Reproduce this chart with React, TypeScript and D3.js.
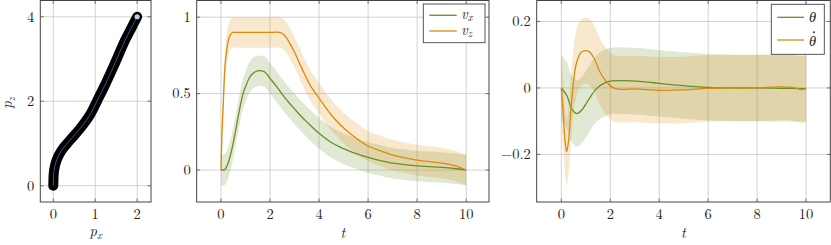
import React from 'react';
import * as d3 from 'd3';

// ---------- data ----------
const PX = [0, 0.02, 0.08, 0.2, 0.4, 0.64, 0.87, 1.05, 1.25, 1.43, 1.71, 1.86, 2.0];
const PZ = [0, 0.37, 0.61, 0.84, 1.08, 1.355, 1.67, 2.02, 2.42, 2.81, 3.44, 3.73, 4.0];

const T_VZ = [0, 0.04, 0.1, 0.16, 0.23, 0.34, 0.46, 0.6, 1.0, 1.5, 2.0, 2.4, 2.6, 2.8, 3.0, 3.2, 3.4, 3.6, 3.8, 4.0, 4.5, 5.0, 5.5, 6.0, 6.5, 7.0, 7.5, 8.0, 8.5, 9.0, 9.5, 10];
const VZ = [0, 0.24, 0.46, 0.67, 0.78, 0.87, 0.9, 0.9, 0.9, 0.9, 0.9, 0.9, 0.88, 0.83, 0.77, 0.7, 0.63, 0.565, 0.515, 0.47, 0.36, 0.275, 0.21, 0.157, 0.125, 0.098, 0.08, 0.065, 0.055, 0.045, 0.03, 0];

const T_VX = [0, 0.15, 0.3, 0.45, 0.6, 0.75, 0.9, 1.05, 1.2, 1.4, 1.6, 1.8, 2.0, 2.25, 2.5, 2.75, 3.0, 3.25, 3.5, 4.0, 4.5, 5.0, 5.5, 6.0, 6.5, 7.0, 7.5, 8.0, 8.5, 9.0, 9.5, 10];
const VX = [0, 0.003, 0.05, 0.14, 0.26, 0.39, 0.5, 0.565, 0.615, 0.643, 0.65, 0.64, 0.6, 0.55, 0.495, 0.445, 0.4, 0.355, 0.315, 0.24, 0.18, 0.14, 0.108, 0.083, 0.062, 0.045, 0.035, 0.027, 0.022, 0.017, 0.01, 0];

const T_TH = [0, 0.22, 0.42, 0.63, 0.83, 1.1, 1.44, 1.78, 2.06, 2.53, 3.2, 4.0, 4.85, 6.0, 7.0, 8.0, 9.0, 10];
const TH = [0, -0.022, -0.062, -0.077, -0.067, -0.037, -0.002, 0.015, 0.021, 0.022, 0.02, 0.014, 0.008, 0.002, 0, 0, -0.001, -0.002];

const T_THD = [0, 0.08, 0.15, 0.22, 0.3, 0.38, 0.49, 0.63, 0.83, 1.1, 1.31, 1.58, 1.85, 2.13, 2.4, 3.0, 3.5, 4.0, 5.0, 6.0, 7.0, 8.0, 8.9, 9.5, 9.8, 10];
const THD = [0, -0.077, -0.157, -0.192, -0.157, -0.077, 0.013, 0.078, 0.108, 0.111, 0.093, 0.048, 0.018, 0, -0.004, -0.003, -0.005, -0.007, -0.006, -0.001, 0, 0, 0.003, 0.001, -0.005, -0.002];

const BAND = 0.1;

const P1_XTICKS = [0, 1, 2];
const P1_YTICKS = [0, 2, 4];
const T_TICKS = [0, 2, 4, 6, 8, 10];
const V_YTICKS = [0, 0.5, 1];
const TH_YTICKS = [-0.2, 0, 0.2];

// ---------- style ----------
const FONT = '"Latin Modern Roman","CMU Serif","Liberation Serif","Times New Roman",serif';
const GREEN = '#6b8e23';
const ORANGE = '#da8c08';
const GRID = '#c8c8c8';
const AXIS = '#444';
const FS = 14.5;

type Sc = d3.ScaleLinear<number, number>;

function fmt(v: number) {
  const s = String(v);
  return v < 0 ? '\u2212' + s.slice(1) : s;
}

function Frame({ xs, ys, xTicks, yTicks }: { xs: Sc; ys: Sc; xTicks: number[]; yTicks: number[] }) {
  const [x0, x1] = xs.range();
  const [y1, y0] = ys.range();
  return (
    <g>
      {xTicks.map((t) => (
        <line key={'gx' + t} x1={xs(t)} x2={xs(t)} y1={y0} y2={y1} stroke={GRID} strokeWidth={0.8} />
      ))}
      {yTicks.map((t) => (
        <line key={'gy' + t} x1={x0} x2={x1} y1={ys(t)} y2={ys(t)} stroke={GRID} strokeWidth={0.8} />
      ))}
    </g>
  );
}

function Axes({ xs, ys, xTicks, yTicks }: { xs: Sc; ys: Sc; xTicks: number[]; yTicks: number[] }) {
  const [x0, x1] = xs.range();
  const [y1, y0] = ys.range();
  const tl = 3.5;
  return (
    <g>
      {xTicks.map((t) => (
        <g key={'tx' + t}>
          <line x1={xs(t)} x2={xs(t)} y1={y1} y2={y1 - tl} stroke={AXIS} strokeWidth={0.7} />
          <line x1={xs(t)} x2={xs(t)} y1={y0} y2={y0 + tl} stroke={AXIS} strokeWidth={0.7} />
          <text x={xs(t)} y={y1 + 16.5} textAnchor="middle" fontFamily={FONT} fontSize={FS} fill="#222">
            {fmt(t)}
          </text>
        </g>
      ))}
      {yTicks.map((t) => (
        <g key={'ty' + t}>
          <line x1={x0} x2={x0 + tl} y1={ys(t)} y2={ys(t)} stroke={AXIS} strokeWidth={0.7} />
          <line x1={x1} x2={x1 - tl} y1={ys(t)} y2={ys(t)} stroke={AXIS} strokeWidth={0.7} />
          <text x={x0 - 6} y={ys(t) + 4.8} textAnchor="end" fontFamily={FONT} fontSize={FS} fill="#222">
            {fmt(t)}
          </text>
        </g>
      ))}
      <rect x={x0} y={y0} width={x1 - x0} height={y1 - y0} fill="none" stroke={AXIS} strokeWidth={1} />
    </g>
  );
}

function series(ts: number[], vs: number[]) {
  return ts.map((t, i) => ({ t, v: vs[i] }));
}

function Band({ xs, ys, data, color }: { xs: Sc; ys: Sc; data: { t: number; v: number }[]; color: string }) {
  const area = d3
    .area<{ t: number; v: number }>()
    .x((d) => xs(d.t))
    .y0((d) => ys(d.v - BAND))
    .y1((d) => ys(d.v + BAND))
    .curve(d3.curveCatmullRom.alpha(0.5));
  return <path d={area(data) || ''} fill={color} fillOpacity={0.2} stroke="none" />;
}

function Line({ xs, ys, data, color }: { xs: Sc; ys: Sc; data: { t: number; v: number }[]; color: string }) {
  const line = d3
    .line<{ t: number; v: number }>()
    .x((d) => xs(d.t))
    .y((d) => ys(d.v))
    .curve(d3.curveCatmullRom.alpha(0.5));
  return <path d={line(data) || ''} fill="none" stroke={color} strokeWidth={1.3} />;
}

export default function App() {
  // Panel 1
  const x1s = d3.scaleLinear().domain([-0.31, 2.33]).range([40.3, 151]);
  const y1s = d3.scaleLinear().domain([-0.385, 4.385]).range([202, 0.5]);
  const pts = PX.map((x, i) => [x1s(x), y1s(PZ[i])] as [number, number]);
  const pLine = d3.line().curve(d3.curveCatmullRom.alpha(0.5))(pts) || '';
  const end = pts[pts.length - 1];

  // Panel 2
  const x2s = d3.scaleLinear().domain([-0.99, 10.93]).range([196.7, 489]);
  const y2s = d3.scaleLinear().domain([-0.209, 1.109]).range([202, 0.5]);
  const vx = series(T_VX, VX);
  const vz = series(T_VZ, VZ);

  // Panel 3
  const x3s = d3.scaleLinear().domain([-1.005, 10.99]).range([536.7, 830.3]);
  const y3s = d3.scaleLinear().domain([-0.343, 0.263]).range([202, 0.5]);
  const th = series(T_TH, TH);
  const thd = series(T_THD, THD);

  const it = { fontStyle: 'italic' as const };

  return (
    <svg width={831} height={245} style={{ position: 'absolute', left: 0, top: 0, background: '#fff' }}>
      {/* Panel 1 */}
      <Frame xs={x1s} ys={y1s} xTicks={P1_XTICKS} yTicks={P1_YTICKS} />
      <path d={pLine} fill="none" stroke="#000" strokeWidth={10} strokeLinecap="round" strokeLinejoin="round" />
      <path d={pLine} fill="none" stroke="#3a70a8" strokeWidth={0.8} />
      <circle cx={end[0]} cy={end[1]} r={2.6} fill="#b4d0ec" />
      <Axes xs={x1s} ys={y1s} xTicks={P1_XTICKS} yTicks={P1_YTICKS} />
      <text x={95.7} y={236} textAnchor="middle" fontFamily={FONT} fontSize={FS} fill="#222">
        <tspan {...it}>p</tspan>
        <tspan {...it} fontSize={10.5} dy={2.5}>x</tspan>
      </text>
      <text transform="translate(12,103) rotate(-90)" textAnchor="middle" fontFamily={FONT} fontSize={FS} fill="#222">
        <tspan {...it}>p</tspan>
        <tspan {...it} fontSize={10.5} dy={2.5}>z</tspan>
      </text>

      {/* Panel 2 */}
      <Frame xs={x2s} ys={y2s} xTicks={T_TICKS} yTicks={V_YTICKS} />
      <Band xs={x2s} ys={y2s} data={vx} color={GREEN} />
      <Band xs={x2s} ys={y2s} data={vz} color={ORANGE} />
      <Line xs={x2s} ys={y2s} data={vx} color={GREEN} />
      <Line xs={x2s} ys={y2s} data={vz} color={ORANGE} />
      <Axes xs={x2s} ys={y2s} xTicks={T_TICKS} yTicks={V_YTICKS} />
      <text x={342.9} y={237.5} textAnchor="middle" fontFamily={FONT} fontSize={FS} fill="#222" {...it}>
        t
      </text>
      <g>
        <rect x={423.3} y={4} width={61.7} height={38.7} fill="#fff" stroke={AXIS} strokeWidth={0.9} />
        <line x1={429.3} x2={456.7} y1={15.3} y2={15.3} stroke={GREEN} strokeWidth={1.3} />
        <line x1={429.3} x2={456.7} y1={31} y2={31} stroke={ORANGE} strokeWidth={1.3} />
        <text x={461} y={18.8} fontFamily={FONT} fontSize={FS} fill="#222">
          <tspan {...it}>v</tspan>
          <tspan {...it} fontSize={10.5} dy={2.5}>x</tspan>
        </text>
        <text x={461} y={34.5} fontFamily={FONT} fontSize={FS} fill="#222">
          <tspan {...it}>v</tspan>
          <tspan {...it} fontSize={10.5} dy={2.5}>z</tspan>
        </text>
      </g>

      {/* Panel 3 */}
      <Frame xs={x3s} ys={y3s} xTicks={T_TICKS} yTicks={TH_YTICKS} />
      <Band xs={x3s} ys={y3s} data={th} color={GREEN} />
      <Band xs={x3s} ys={y3s} data={thd} color={ORANGE} />
      <Line xs={x3s} ys={y3s} data={th} color={GREEN} />
      <Line xs={x3s} ys={y3s} data={thd} color={ORANGE} />
      <Axes xs={x3s} ys={y3s} xTicks={T_TICKS} yTicks={TH_YTICKS} />
      <text x={683.5} y={237.5} textAnchor="middle" fontFamily={FONT} fontSize={FS} fill="#222" {...it}>
        t
      </text>
      <g>
        <rect x={771.3} y={4.3} width={53} height={50} fill="#fff" stroke={AXIS} strokeWidth={0.9} />
        <line x1={777.3} x2={804} y1={17.3} y2={17.3} stroke={GREEN} strokeWidth={1.3} />
        <line x1={777.3} x2={804} y1={40} y2={40} stroke={ORANGE} strokeWidth={1.3} />
        <text x={809} y={21.7} fontFamily={FONT} fontSize={FS} fill="#222" {...it}>
          θ
        </text>
        <text x={809} y={46} fontFamily={FONT} fontSize={FS} fill="#222" {...it}>
          θ
        </text>
        <circle cx={814} cy={32.3} r={0.95} fill="#222" />
      </g>
    </svg>
  );
}
